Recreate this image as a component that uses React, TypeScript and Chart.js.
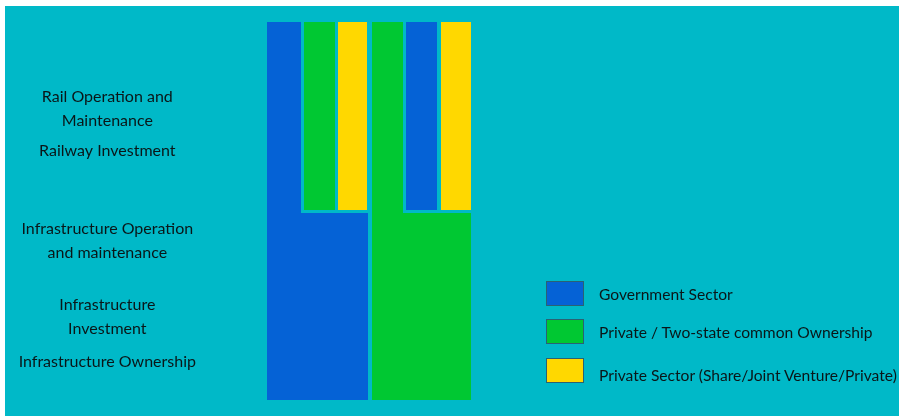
import React, { useEffect, useRef } from "react";
import { Chart, registerables } from "chart.js";

Chart.register(...registerables);

// ---- data ----
const columns = ["C1", "C2", "C3", "C4", "C5", "C6"];
const lowerValues = [5, 5, 5, 5, 5, 5];
const upperValues = [5, 5, 5, 5, 5, 5];
// sector index per segment (0 = Government, 1 = Private / Two-state, 2 = Private Sector)
const lowerSector = [0, 0, 0, 1, 1, 1];
const upperSector = [0, 1, 2, 1, 0, 2];
const tickValues = [7.7, 6.6, 4.2, 2.2, 1.0];
const tickLabels: (string | string[])[] = [
  ["Rail Operation and", "Maintenance"],
  "Railway Investment",
  ["Infrastructure Operation", "and maintenance"],
  ["Infrastructure", "Investment"],
  "Infrastructure Ownership",
];
const legendLabels = [
  "Government Sector",
  "Private / Two-state common Ownership",
  "Private Sector (Share/Joint Venture/Private)",
];

// ---- styles ----
const TEAL = "#00B9C8";
const SECTOR_COLORS = ["#0562D6", "#00C832", "#FFD800"];
const TEXT = "#0a1618";
const FONT = "Lato";

export default function App() {
  const ref = useRef<HTMLCanvasElement | null>(null);

  useEffect(() => {
    if (!ref.current) return;
    const n = columns.length;
    const chart = new Chart(ref.current, {
      type: "bar",
      data: {
        labels: columns,
        datasets: [
          {
            label: "lower",
            data: lowerValues,
            backgroundColor: lowerSector.map((s) => SECTOR_COLORS[s]),
            borderColor: TEAL,
            borderSkipped: false,
            inflateAmount: 0,
            borderWidth: lowerSector.map((s, i) => ({
              top: upperSector[i] !== s ? 2 : 0,
              bottom: 0,
              left: i > 0 && lowerSector[i - 1] !== s ? 3 : 0,
              right: i < n - 1 && lowerSector[i + 1] !== s ? 1 : 0,
            })) as any,
            barPercentage: 1,
            categoryPercentage: 1,
            stack: "s",
          },
          {
            label: "upper",
            data: upperValues,
            backgroundColor: upperSector.map((s) => SECTOR_COLORS[s]),
            borderColor: TEAL,
            borderSkipped: false,
            inflateAmount: 0,
            borderWidth: upperSector.map((s, i) => ({
              top: 0,
              bottom: s !== lowerSector[i] ? 1 : 0,
              left: i === n - 1 ? 4 : i > 0 ? 3 : 0,
              right: i < n - 1 && lowerSector[i + 1] !== lowerSector[i] ? 2 : 0,
            })) as any,
            barPercentage: 1,
            categoryPercentage: 1,
            stack: "s",
          },
        ],
      },
      options: {
        animation: false,
        responsive: false,
        maintainAspectRatio: false,
        layout: { padding: { top: 16, bottom: 16, left: 0, right: 428 } },
        plugins: { legend: { display: false }, tooltip: { enabled: false } },
        scales: {
          x: { display: false, stacked: true },
          y: {
            stacked: true,
            min: 0,
            max: 10,
            grid: { display: false, drawTicks: false },
            border: { display: false },
            afterBuildTicks: (scale: any) => {
              scale.ticks = tickValues.map((v) => ({ value: v }));
            },
            afterFit: (scale: any) => {
              scale.width = 262;
              scale.paddingTop = 0;
              scale.paddingBottom = 0;
            },
            ticks: {
              autoSkip: false,
              crossAlign: "center",
              padding: 71,
              color: TEXT,
              font: { family: FONT, size: 16, lineHeight: 1.5 },
              callback: (_v: any, i: number) => tickLabels[i],
            },
          },
        },
      },
    });
    return () => chart.destroy();
  }, []);

  const legendTops = [281, 319, 358];
  const textOffsets = [0, 0, 4];

  return (
    <div style={{ position: "absolute", left: 0, top: 0, width: 899, height: 417, overflow: "hidden", background: "#fff" }}>
      <div style={{ position: "absolute", left: 5, top: 6, width: 894, height: 410, background: TEAL }}>
        <canvas ref={ref} width={894} height={410} style={{ display: "block" }} />
      </div>
      {legendLabels.map((lab, i) => (
        <div key={lab} style={{ position: "absolute", left: 546, top: legendTops[i], height: 25, display: "flex", alignItems: "center", whiteSpace: "nowrap" }}>
          <div style={{ width: 36, height: 23, background: SECTOR_COLORS[i], border: "1px solid #2a6273" }} />
          <span style={{ marginLeft: 15, position: "relative", top: textOffsets[i], fontFamily: FONT, fontSize: 15.6, color: TEXT }}>{lab}</span>
        </div>
      ))}
    </div>
  );
}
